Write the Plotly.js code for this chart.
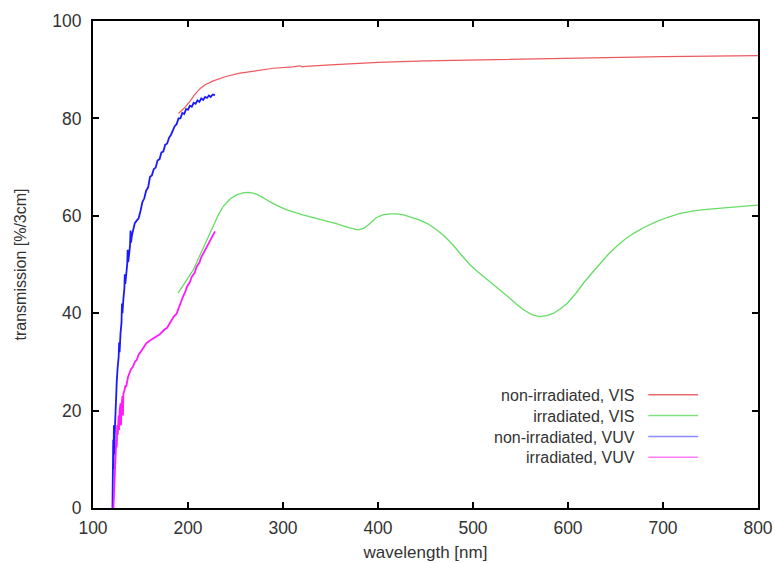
<!DOCTYPE html>
<html>
<head>
<meta charset="utf-8">
<script src="https://cdn.plot.ly/plotly-3.0.1.min.js"></script>
<style>html,body{margin:0;padding:0;background:#fff;}#chart{width:775px;height:563px;}</style>
</head>
<body>
<div id="chart"></div>
<script>
// ---- data ----
const seriesNames = ["non-irradiated, VIS", "irradiated, VIS", "non-irradiated, VUV", "irradiated, VUV"];

const visNonIrrX = [190,193,197,202,207,212.6,218,226.6,240,254.7,270,290,310,318,320,324,350,400,450,500,550,600,650,700,750,800];
const visNonIrrY = [81.0,81.5,82.3,83.5,84.9,86.1,86.9,87.7,88.6,89.3,89.8,90.3,90.6,90.8,90.6,90.7,91.0,91.5,91.8,92.0,92.1,92.3,92.5,92.7,92.8,92.9];

const visIrrX = [189.5,195,200,205.6,210,216,221,226.6,232,237,244,251,258,263.5,270,276,286,295,304,321,339,356,370,379,385,391,398,405,413,420,427,436,444,453,462,470,479,488,497,505,518,535,545,553,562,570,578,585,592,599,608,616,625,634,642,651,660,669,680,693,705,718,732,746,760,780,800];
const visIrrY = [44.1,45.8,47.2,48.9,50.8,53.3,55.5,57.8,60.2,61.9,63.4,64.3,64.7,64.8,64.6,64.1,62.9,62.0,61.2,60.2,59.3,58.4,57.5,57.1,57.4,58.3,59.6,60.2,60.4,60.4,60.2,59.7,59.1,58.3,57.1,55.8,54.0,51.9,49.9,48.5,46.5,43.7,42.0,40.7,39.7,39.3,39.5,40.0,40.9,42.0,44.0,46.1,48.2,50.2,52.0,53.7,55.2,56.4,57.6,58.8,59.7,60.5,61.0,61.3,61.6,61.9,62.2];

const vuvNonIrrX = [120.5,121,121.3,121.6,122,122.3,123,123.5,124,125,126,127,127.5,128,129,130,130.5,131,132,133,133.5,134,135,136,136.5,137,138,139,139.5,140,141,142,143,144,146,148,150,152,154,156,158,160,162,164,166,168,170,172,174,176,178,180,182,184,186,188,190,192,194,196,198,200,202,204,206,208,210,212,214,216,218,220,222,224,226,228.4];
const vuvNonIrrY = [0,5,14,8,17,11,16,20,23,26,29,31,34,32,36,38,42,40,43,45,48,46,48,50,53,50.5,52,54,57,54.5,56,57,58,58.5,59,59.5,61,62.8,63.6,65.2,65.8,68.0,68.3,69.6,69.9,71.4,71.6,73.0,73.2,74.6,74.8,76.0,76.6,77.6,78.4,78.8,80.0,80.0,81.1,80.9,81.9,81.8,82.6,82.4,83.2,83.0,83.7,83.4,84.1,83.8,84.4,84.2,84.7,84.4,84.9,84.8];

const vuvIrrX = [121.5,122,122.5,123.2,124,124.5,125,125.5,126,126.6,127,127.5,128,129,129.5,130,131,131.5,132,133,134,135,136,137,138,140,142,144,146,148,150,153,156,160,165,170,175,178,181,185,188,190,193,195,197,199,202,204,207,209,212,214,217,220,223,225,228.4];
const vuvIrrY = [0,3,6,8,11,14,12.5,17,15,17.5,19,16,20,21.5,17,21,23,19,23.5,24,25,25,26.5,27,27.5,28.5,29,30,30.4,31.5,32,32.8,33.8,34.4,35,35.6,36.6,37.0,38,39.3,39.9,40.8,42.5,43.5,44.3,45.5,46.4,47.5,48.3,49.5,50.4,51.5,52.6,53.8,54.6,55.5,56.8];

const xTickVals = [100,200,300,400,500,600,700,800];
const yTickVals = [0,20,40,60,80,100];

// ---- styles ----
const FONT = "Liberation Sans, Arial, sans-serif";
const colors = ["#ec5a5e", "#66dd66", "#1a1aff", "#ff1aff"];
const legendColors = ["#ec6a6e", "#7fe27f", "#8c8cff", "#ff7cff"];
const widths = [1.2, 1.3, 1.8, 1.8];

const xs = [visNonIrrX, visIrrX, vuvNonIrrX, vuvIrrX];
const ys = [visNonIrrY, visIrrY, vuvNonIrrY, vuvIrrY];

const traces = seriesNames.map((n, i) => ({
  type: "scatter", mode: "lines", name: n,
  x: xs[i], y: ys[i],
  line: {color: colors[i], width: widths[i]},
  showlegend: false
}));

// custom legend: one right-aligned multi-line text block, line samples to the right
const legFont = 16;
const legTextX = 0.818, legLineX0 = 0.835, legLineX1 = 0.910;
const legCenterPx = 426;            // vertical centre of the block (pixels)
const plotTop = 21, plotH = 487;
const rowStep = 1.3 * legFont;
const legY = seriesNames.map((n, i) => (plotTop + plotH - (legCenterPx + (i - 1.5) * rowStep)) / plotH);
const annotations = [{
  xref: "paper", yref: "paper", x: legTextX, y: (plotTop + plotH - legCenterPx) / plotH,
  xanchor: "right", yanchor: "middle", align: "right", showarrow: false,
  text: seriesNames.join("<br>"),
  font: {family: FONT, size: legFont, color: "#333"}
}];
const shapes = seriesNames.map((n, i) => ({
  type: "line", xref: "paper", yref: "paper",
  x0: legLineX0, x1: legLineX1, y0: legY[i], y1: legY[i],
  line: {color: legendColors[i], width: 1.5}
}));

const axisCommon = {
  showgrid: false, zeroline: false, showline: true, linecolor: "#000", linewidth: 2,
  mirror: "ticks", ticks: "inside", ticklen: 6, tickwidth: 2, tickcolor: "#000",
  tickfont: {family: FONT, size: 17.5, color: "#333"},
  automargin: false
};

const layout = {
  width: 775, height: 563,
  margin: {l: 93, r: 17, t: 21, b: 55},
  paper_bgcolor: "#fff", plot_bgcolor: "#fff",
  xaxis: Object.assign({}, axisCommon, {
    range: [100, 800], tickvals: xTickVals, ticktext: xTickVals.map(String),
    ticklabelstandoff: 3,
    title: {text: "wavelength [nm]", standoff: 9, font: {family: FONT, size: 17, color: "#333"}}
  }),
  yaxis: Object.assign({}, axisCommon, {
    range: [0, 100], tickvals: yTickVals, ticktext: yTickVals.map(String),
    ticklabelstandoff: 6,
    title: {text: "transmission [%/3cm]", standoff: 22, font: {family: FONT, size: 16, color: "#333"}}
  }),
  annotations: annotations,
  shapes: shapes,
  showlegend: false
};

Plotly.newPlot("chart", traces, layout, {staticPlot: true, displayModeBar: false});
</script>
</body>
</html>
